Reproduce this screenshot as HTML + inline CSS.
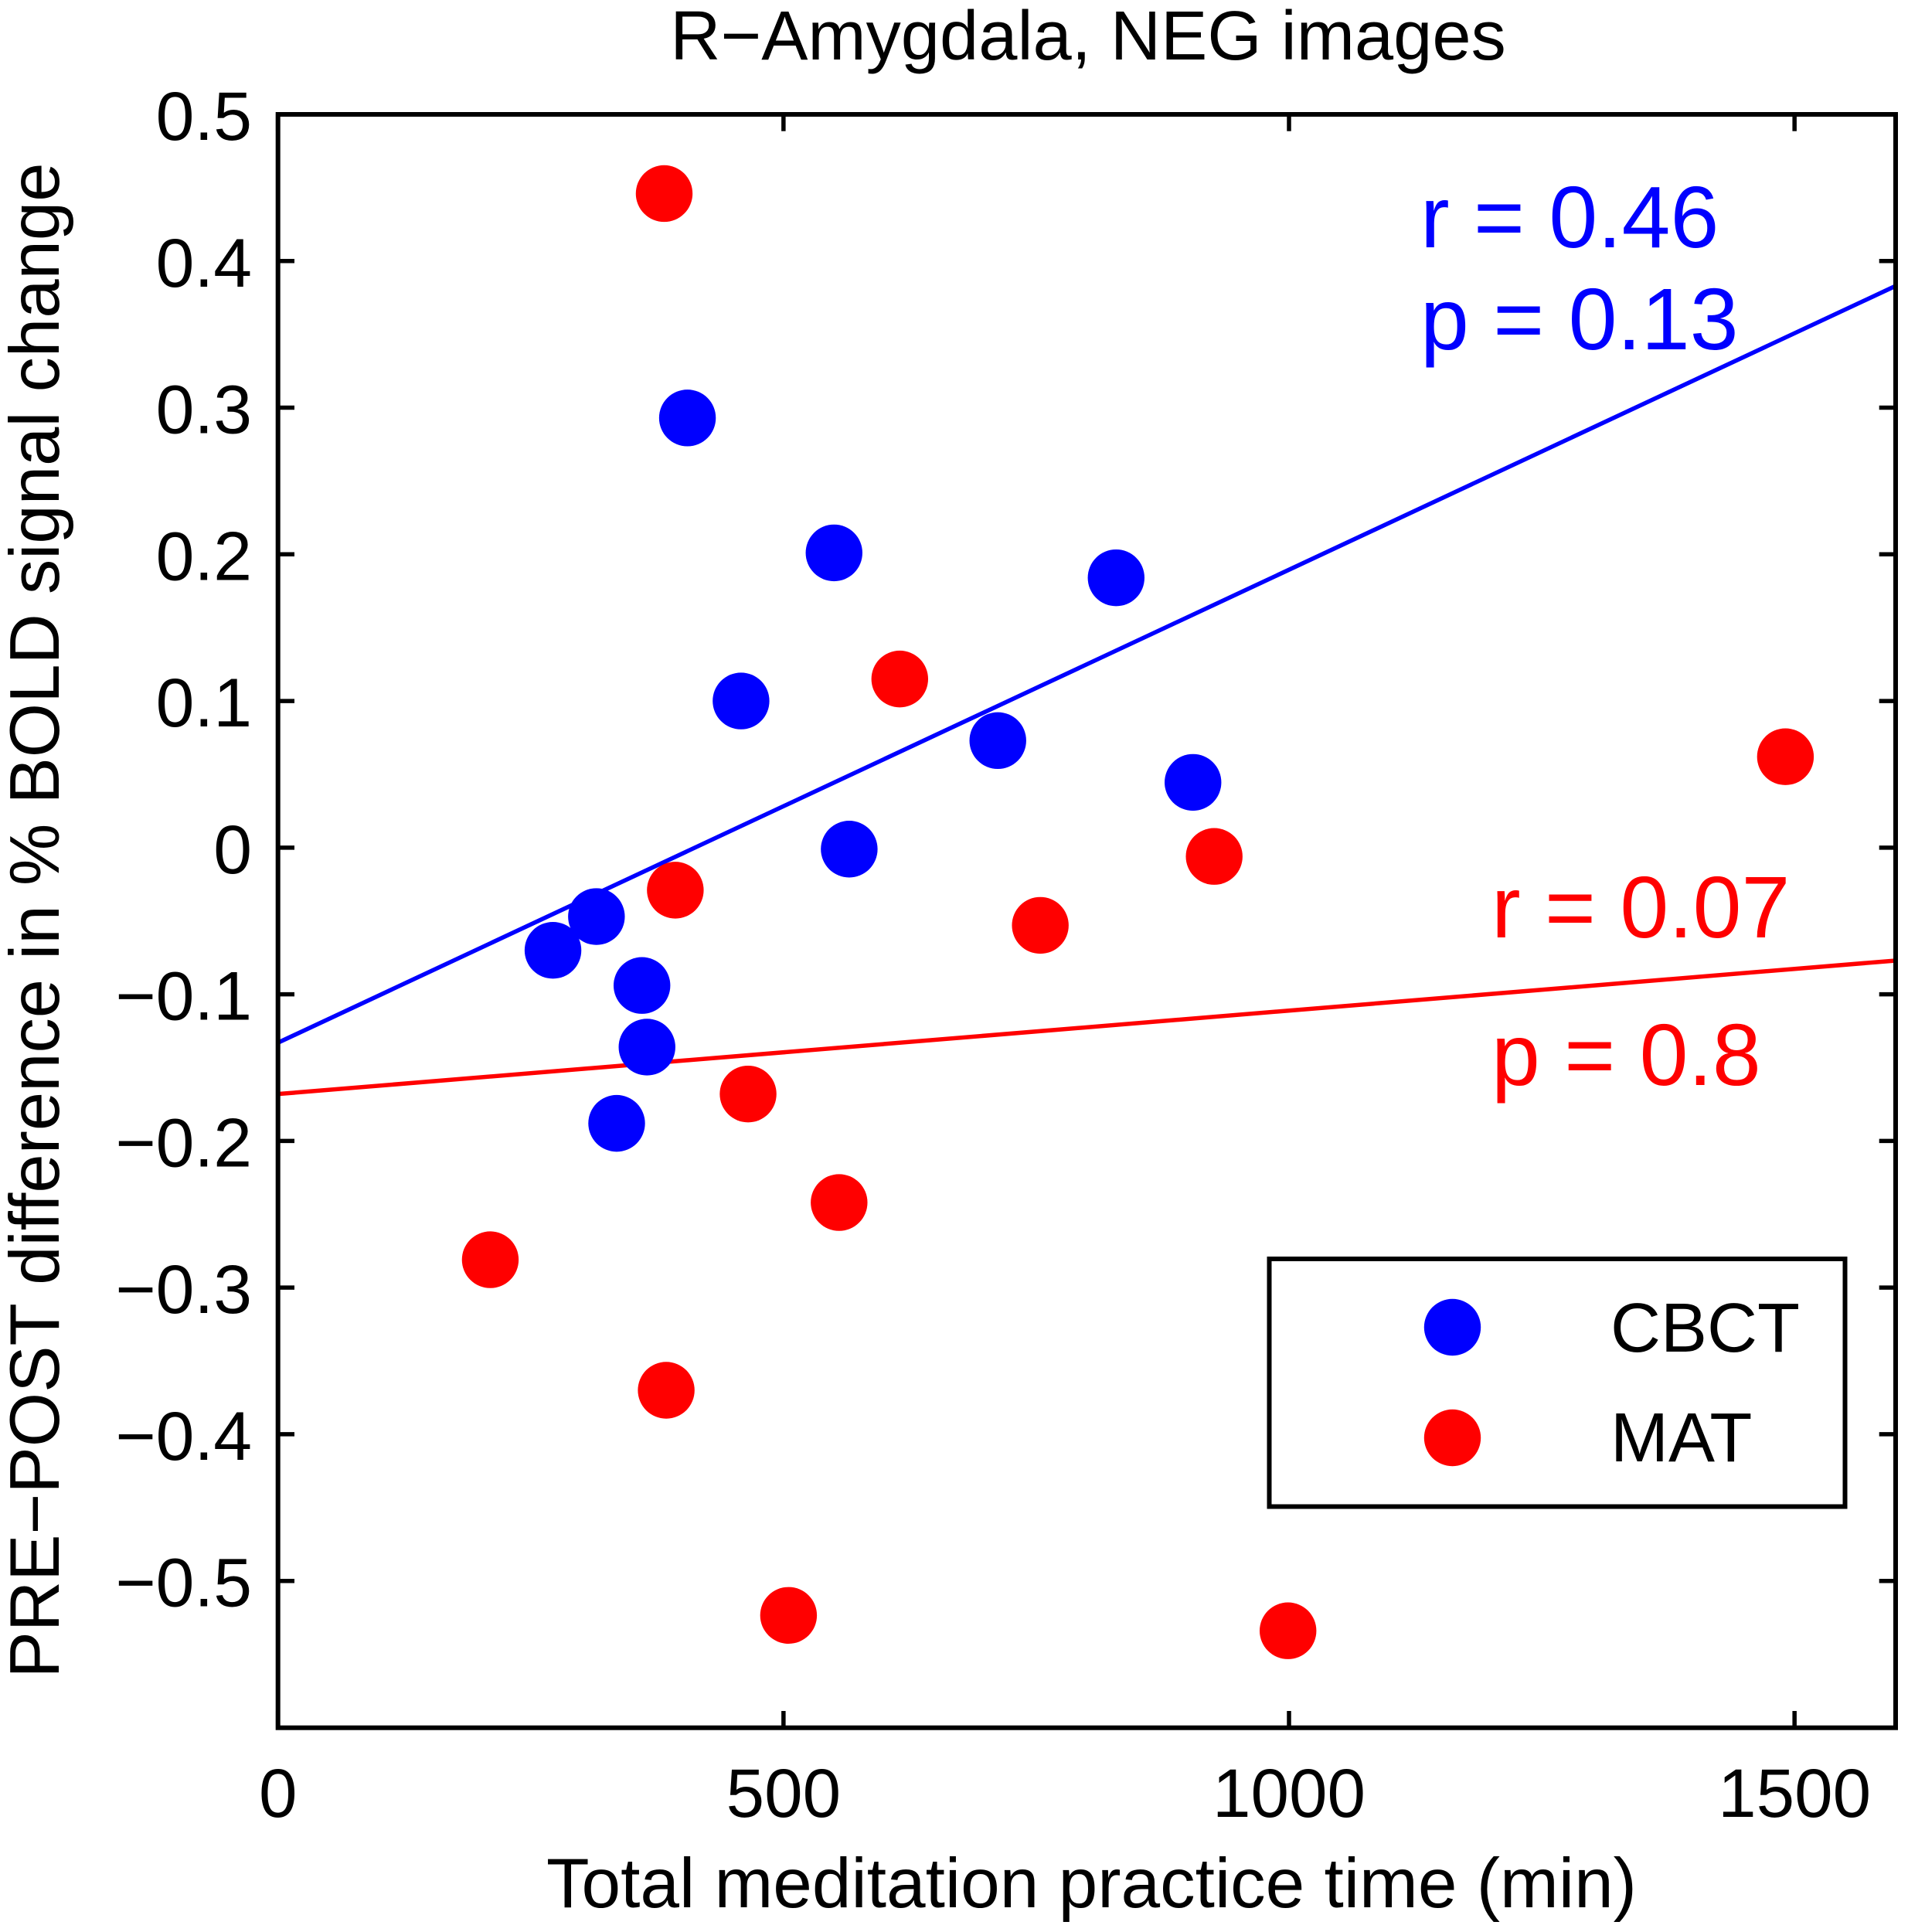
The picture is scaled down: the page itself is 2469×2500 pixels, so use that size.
<!DOCTYPE html>
<html lang="en">
<head>
<meta charset="utf-8">
<title>R-Amygdala, NEG images</title>
<style>
html,body{margin:0;padding:0;background:#fff;width:2469px;height:2500px;overflow:hidden}
svg{display:block}
text{font-family:"Liberation Sans",Arial,sans-serif;fill:#000}
</style>
</head>
<body>
<svg id="chart" xmlns="http://www.w3.org/2000/svg" width="2469" height="2500" viewBox="0 0 2469 2500">
  <rect x="0" y="0" width="2469" height="2500" fill="#fff"/>
  <g id="ticks"></g>
  <g id="tick-labels"></g>
  <g id="fits"></g>
  <g id="points"></g>
  <rect x="359.7" y="148" width="2093.3" height="2087.7" fill="none" stroke="#000" stroke-width="6"/>
  <text x="1408" y="77" font-size="90.3" text-anchor="middle">R&#8722;Amygdala, NEG images</text>
  <text x="1412.5" y="2468" font-size="91" text-anchor="middle">Total meditation practice time (min)</text>
  <text transform="translate(76,1191) rotate(-90)" x="0" y="0" font-size="90.5" text-anchor="middle">PRE&#8722;POST difference in % BOLD signal change</text>
  <text x="1838" y="320" font-size="113" style="fill:#0000ff">r = 0.46</text>
  <text x="1838" y="452" font-size="113" style="fill:#0000ff">p = 0.13</text>
  <text x="1930" y="1213" font-size="113" style="fill:#ff0000">r = 0.07</text>
  <text x="1930" y="1404" font-size="113" style="fill:#ff0000">p = 0.8</text>
  <g>
    <rect x="1642.5" y="1629" width="745" height="320.5" fill="#fff" stroke="#000" stroke-width="6"/>
    <circle cx="1879.5" cy="1717.5" r="36.7" fill="#0000ff"/>
    <text x="2084" y="1749" font-size="90">CBCT</text>
    <circle cx="1879.5" cy="1860.5" r="36.7" fill="#ff0000"/>
    <text x="2084" y="1891" font-size="90">MAT</text>
  </g>
</svg>
<script>
var xTicks = [0, 500, 1000, 1500];
var yTicks = [0.5, 0.4, 0.3, 0.2, 0.1, 0, -0.1, -0.2, -0.3, -0.4, -0.5];
var xTickLabels = ["0", "500", "1000", "1500"];
var yTickLabels = ["0.5", "0.4", "0.3", "0.2", "0.1", "0", "\u22120.1", "\u22120.2", "\u22120.3", "\u22120.4", "\u22120.5"];
var cbctX = [405, 550, 829, 458, 712, 905, 565, 315, 272, 360, 365, 335];
var cbctY = [0.293, 0.201, 0.184, 0.100, 0.073, 0.0445, -0.001, -0.047, -0.070, -0.094, -0.136, -0.188];
var matX = [382, 615, 1491, 926, 393, 754, 465, 555, 210, 384, 505, 999];
var matY = [0.446, 0.115, 0.062, -0.006, -0.029, -0.053, -0.168, -0.242, -0.281, -0.370, -0.5235, -0.534];
var fitX = [0, 1600];
var cbctFitY = [-0.133, 0.383];
var matFitY = [-0.168, -0.077];

var NS = "http://www.w3.org/2000/svg";
function sx(v) { return 359.7 + (v / 1600) * 2093.3; }
function sy(v) { return 1096.85 - v * 1897.7; }
function make(tag, parentId, attrs) {
  var el = document.createElementNS(NS, tag);
  for (var k in attrs) { el.setAttribute(k, attrs[k]); }
  document.getElementById(parentId).appendChild(el);
  return el;
}
function tickLine(x1, y1, x2, y2) {
  var el = make("line", "ticks", { x1: x1, y1: y1, x2: x2, y2: y2, stroke: "#000", "stroke-width": 5.5 });
  
  
}
xTicks.forEach(function (v, i) {
  var x = sx(v);
  tickLine(x, 2235.7, x, 2214);
  tickLine(x, 148, x, 169.7);
  var t = make("text", "tick-labels", { x: x, y: 2351, "font-size": 89, "text-anchor": "middle" });
  t.textContent = xTickLabels[i];
  
  
});
yTicks.forEach(function (v, i) {
  var y = sy(v);
  tickLine(359.7, y, 381, y);
  tickLine(2453, y, 2431.7, y);
  var t = make("text", "tick-labels", { x: 326, y: y + 33, "font-size": 89.5, "text-anchor": "end" });
  t.textContent = yTickLabels[i];
  
  
});
function drawFit(ys, color, name) {
  var el = make("line", "fits", { x1: sx(fitX[0]), y1: sy(ys[0]), x2: sx(fitX[1]), y2: sy(ys[1]), stroke: color, "stroke-width": 5.5 });
  
  
}
drawFit(cbctFitY, "#0000ff", "cbct-fit-line");
drawFit(matFitY, "#ff0000", "mat-fit-line");
function drawPoints(xs, ys, color, name) {
  xs.forEach(function (v, i) {
    var c = make("circle", "points", { cx: sx(v), cy: sy(ys[i]), r: 36.7, fill: color });
    
    
  });
}
drawPoints(cbctX, cbctY, "#0000ff", "cbct-point");
drawPoints(matX, matY, "#ff0000", "mat-point");
</script>
</body>
</html>
